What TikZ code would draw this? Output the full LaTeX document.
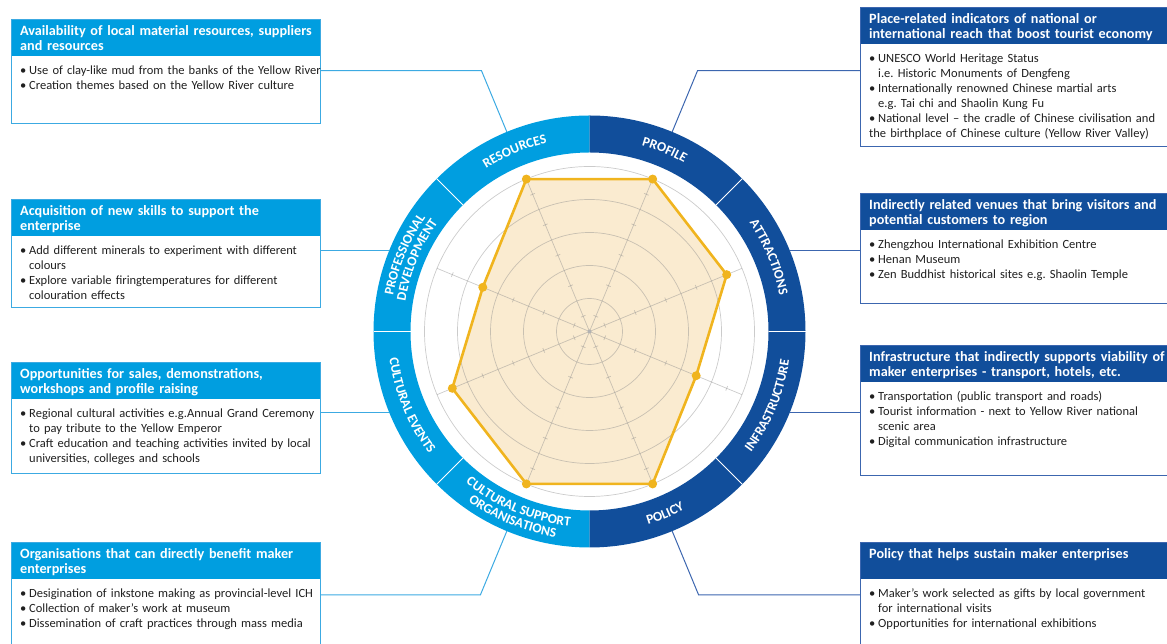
\documentclass[tikz,border=0pt]{standalone}
\usepackage{fontspec}
\setmainfont{Carlito}
\usetikzlibrary{positioning,decorations.text}

\definecolor{ringlight}{RGB}{0,158,224}
\definecolor{ringdark}{RGB}{17,78,155}
\definecolor{edgelight}{RGB}{60,170,226}
\definecolor{edgedark}{RGB}{60,102,175}
\definecolor{webcream}{RGB}{250,235,208}
\definecolor{webgold}{RGB}{240,180,30}

\newcommand{\headfont}{\fontsize{14.2}{15}\selectfont\bfseries}
\newcommand{\listfont}{\fontsize{12.5}{15}\selectfont}
\newcommand{\ringfont}{\fontsize{13.5}{13.5}\selectfont\bfseries}
\newcommand{\bitem}[2][9pt]{\noindent\hangindent=#1\hangafter=1\makebox[9pt][l]{\textbullet}#2\par}

\tikzstyle{lframe} = [rectangle, draw=edgelight, line width=1pt, minimum width=309pt, inner sep=0pt, anchor=north west,
  path picture={\fill[ringlight] (path picture bounding box.north west) rectangle ([yshift=-37pt]path picture bounding box.north east);}]
\tikzstyle{rframe} = [rectangle, draw=edgedark, line width=1pt, minimum width=312pt, inner sep=0pt, anchor=north west,
  path picture={\fill[ringdark] (path picture bounding box.north west) rectangle ([yshift=-37pt]path picture bounding box.north east);}]
\tikzstyle{headtext} = [text=white, font=\headfont, text width=320pt, inner xsep=9pt, inner ysep=6pt, align=left, anchor=north west]
\tikzstyle{listtext} = [text=black!88, font=\listfont, text width=320pt, inner xsep=9pt, inner ysep=9.5pt, align=left]
\tikzstyle{lconn} = [draw=edgelight, line width=1pt]
\tikzstyle{rconn} = [draw=edgedark, line width=1pt]
\tikzstyle{gridline} = [draw=black!45, opacity=0.45, line width=0.7pt]
\tikzstyle{webedge} = [draw=webgold, line width=2.6pt, line join=round]
\tikzset{ringtext/.style={decorate, decoration={text along path, text={|\ringfont|#1}, text align=center, text color=white}}}

\begin{document}
\frenchspacing
\begin{tikzpicture}[x=1pt, y=1pt]
\useasboundingbox (0,0) rectangle (1167,644);
\clip (0,0) rectangle (1167,644);

% ring and radar web
\begin{scope}[shift={(589.5,312.5)}]
  \fill[ringlight] (90:216) arc[start angle=90, end angle=270, radius=216] -- (270:179) arc[start angle=270, end angle=90, radius=179] -- cycle;
  \fill[ringdark] (-90:216) arc[start angle=-90, end angle=90, radius=216] -- (90:179) arc[start angle=90, end angle=-90, radius=179] -- cycle;
  \foreach \a in {0,45,135,180,225,315}
    \draw[white, line width=0.8pt] (\a:179) -- (\a:216);

  \foreach \n/\a in {res/112.5, prof/67.5, attr/22, infra/-22, pol/-67.5, cso/-112.5, cev/-158, pdev/158}
    \coordinate (\n-ring) at (\a:216);
  \coordinate (res-knee) at (112.5:282.5);
  \coordinate (prof-knee) at (67.5:282.5);
  \coordinate (pol-knee) at (-67.5:285);
  \coordinate (cso-knee) at (-112.5:285);

  \foreach \n/\a/\r in {1/112.5/165, 2/67.5/165, 3/22.5/148.5, 4/-22.5/115.5, 5/-67.5/165, 6/-112.5/165, 7/-157.5/148.5, 8/157.5/115.5}
    \coordinate (p\n) at (\a:\r);
  \fill[webcream] (p1) -- (p2) -- (p3) -- (p4) -- (p5) -- (p6) -- (p7) -- (p8) -- cycle;
  \foreach \r in {33,66,99,132,165}
    \draw[gridline] (0,0) circle[radius=\r];
  \foreach \a in {22.5,67.5,112.5,157.5,202.5,247.5,292.5,337.5} {
    \draw[gridline] (0,0) -- (\a:165);
    \foreach \t in {16.5,49.5,82.5,115.5,148.5}
      \draw[gridline, rotate=\a] (\t,-2.5) -- (\t,2.5);
  }
  \fill[black!30] (0,0) circle[radius=2];
  \draw[webedge] (p1) -- (p2) -- (p3) -- (p4) -- (p5) -- (p6) -- (p7) -- (p8) -- cycle;
  \foreach \n in {1,...,8}
    \fill[webgold] (p\n) circle[radius=4.5];

  % labels on the ring
  \path[ringtext=RESOURCES] (133.5:193.2) arc[start angle=133.5, end angle=91.5, radius=193.2];
  \path[ringtext=PROFILE] (88.5:193.2) arc[start angle=88.5, end angle=46.5, radius=193.2];
  \path[ringtext=ATTRACTIONS] (43.5:193.2) arc[start angle=43.5, end angle=1.5, radius=193.2];
  \path[ringtext=PROFESSIONAL] (178.5:199.5) arc[start angle=178.5, end angle=136.5, radius=199.5];
  \path[ringtext=DEVELOPMENT] (178.5:186.5) arc[start angle=178.5, end angle=136.5, radius=186.5];
  \path[ringtext=INFRASTRUCTURE] (-43.5:201.8) arc[start angle=-43.5, end angle=-1.5, radius=201.8];
  \path[ringtext=POLICY] (-88.5:201.8) arc[start angle=-88.5, end angle=-46.5, radius=201.8];
  \path[ringtext=CULTURAL SUPPORT] (-133.5:195.5) arc[start angle=-133.5, end angle=-91.5, radius=195.5];
  \path[ringtext=ORGANISATIONS] (-133.5:208.5) arc[start angle=-133.5, end angle=-91.5, radius=208.5];
  \path[ringtext=CULTURAL EVENTS] (-178.5:201.8) arc[start angle=-178.5, end angle=-136.5, radius=201.8];
\end{scope}

% left column
\node[lframe, minimum height=104pt] (res) at (11,625) {};
\node[headtext] (resT) at (res.north west) {Availability of local material resources, suppliers\\and resources};
\node[listtext, below right=37pt and 0pt of res.north west] (resL) {
  \bitem{Use of clay-like mud from the banks of the Yellow River}
  \bitem{Creation themes based on the Yellow River culture}};

\node[lframe, minimum height=108pt] (pdev) at (11,445) {};
\node[headtext] (pdevT) at (pdev.north west) {Acquisition of new skills to support the\\enterprise};
\node[listtext, below right=37pt and 0pt of pdev.north west] (pdevL) {
  \bitem{Add different minerals to experiment with different\newline colours}
  \bitem{Explore variable firingtemperatures for different\newline colouration effects}};

\node[lframe, minimum height=111pt] (cev) at (11,282) {};
\node[headtext] (cevT) at (cev.north west) {Opportunities for sales, demonstrations,\\workshops and profile raising};
\node[listtext, below right=37pt and 0pt of cev.north west] (cevL) {
  \bitem{Regional cultural activities e.g.Annual Grand Ceremony\newline to pay tribute to the Yellow Emperor}
  \bitem{Craft education and teaching activities invited by local\newline universities, colleges and schools}};

\node[lframe, minimum height=110pt] (cso) at (11,102) {};
\node[headtext] (csoT) at (cso.north west) {Organisations that can directly benefit maker\\enterprises};
\node[listtext, below right=37pt and 0pt of cso.north west] (csoL) {
  \bitem{Desigination of inkstone making as provincial-level ICH}
  \bitem{Collection of maker's work at museum}
  \bitem{Dissemination of craft practices through mass media}};

% right column
\node[rframe, minimum height=139pt] (prof) at (860,637) {};
\node[headtext] (profT) at (prof.north west) {Place-related indicators of national or\\international reach that boost tourist economy};
\node[listtext, below right=37pt and 0pt of prof.north west] (profL) {
  \bitem{UNESCO World Heritage Status\newline i.e. Historic Monuments of Dengfeng}
  \bitem{Internationally renowned Chinese martial arts\newline e.g. Tai chi and Shaolin Kung Fu}
  \bitem[0pt]{National level -- the cradle of Chinese civilisation and\newline the birthplace of Chinese culture (Yellow River Valley)}};

\node[rframe, minimum height=110pt] (attr) at (860,451) {};
\node[headtext] (attrT) at (attr.north west) {Indirectly related venues that bring visitors and\\potential customers to region};
\node[listtext, below right=37pt and 0pt of attr.north west] (attrL) {
  \bitem{Zhengzhou International Exhibition Centre}
  \bitem{Henan Museum}
  \bitem{Zen Buddhist historical sites e.g. Shaolin Temple}};

\node[rframe, minimum height=130pt] (infra) at (860,299) {};
\node[headtext] (infraT) at (infra.north west) {Infrastructure that indirectly supports viability of\\maker enterprises - transport, hotels, etc.};
\node[listtext, below right=37pt and 0pt of infra.north west] (infraL) {
  \bitem{Transportation (public transport and roads)}
  \bitem{Tourist information - next to Yellow River national\newline scenic area}
  \bitem{Digital communication infrastructure}};

\node[rframe, minimum height=110pt] (pol) at (860,102) {};
\node[headtext] (polT) at (pol.north west) {Policy that helps sustain maker enterprises};
\node[listtext, below right=37pt and 0pt of pol.north west] (polL) {
  \bitem{Maker's work selected as gifts by local government\newline for international visits}
  \bitem{Opportunities for international exhibitions}};

% connectors
\draw[lconn] (res.east |- res-knee) -- (res-knee) -- (res-ring);
\draw[lconn] (pdev-ring) -- (pdev-ring -| pdev.east);
\draw[lconn] (cev-ring) -- (cev-ring -| cev.east);
\draw[lconn] (cso-ring) -- (cso-knee) -- (cso.east |- cso-knee);
\draw[rconn] (prof.west |- prof-knee) -- (prof-knee) -- (prof-ring);
\draw[rconn] (attr-ring) -- (attr-ring -| attr.west);
\draw[rconn] (infra-ring) -- (infra-ring -| infra.west);
\draw[rconn] (pol-ring) -- (pol-knee) -- (pol.west |- pol-knee);
\end{tikzpicture}
\end{document}
